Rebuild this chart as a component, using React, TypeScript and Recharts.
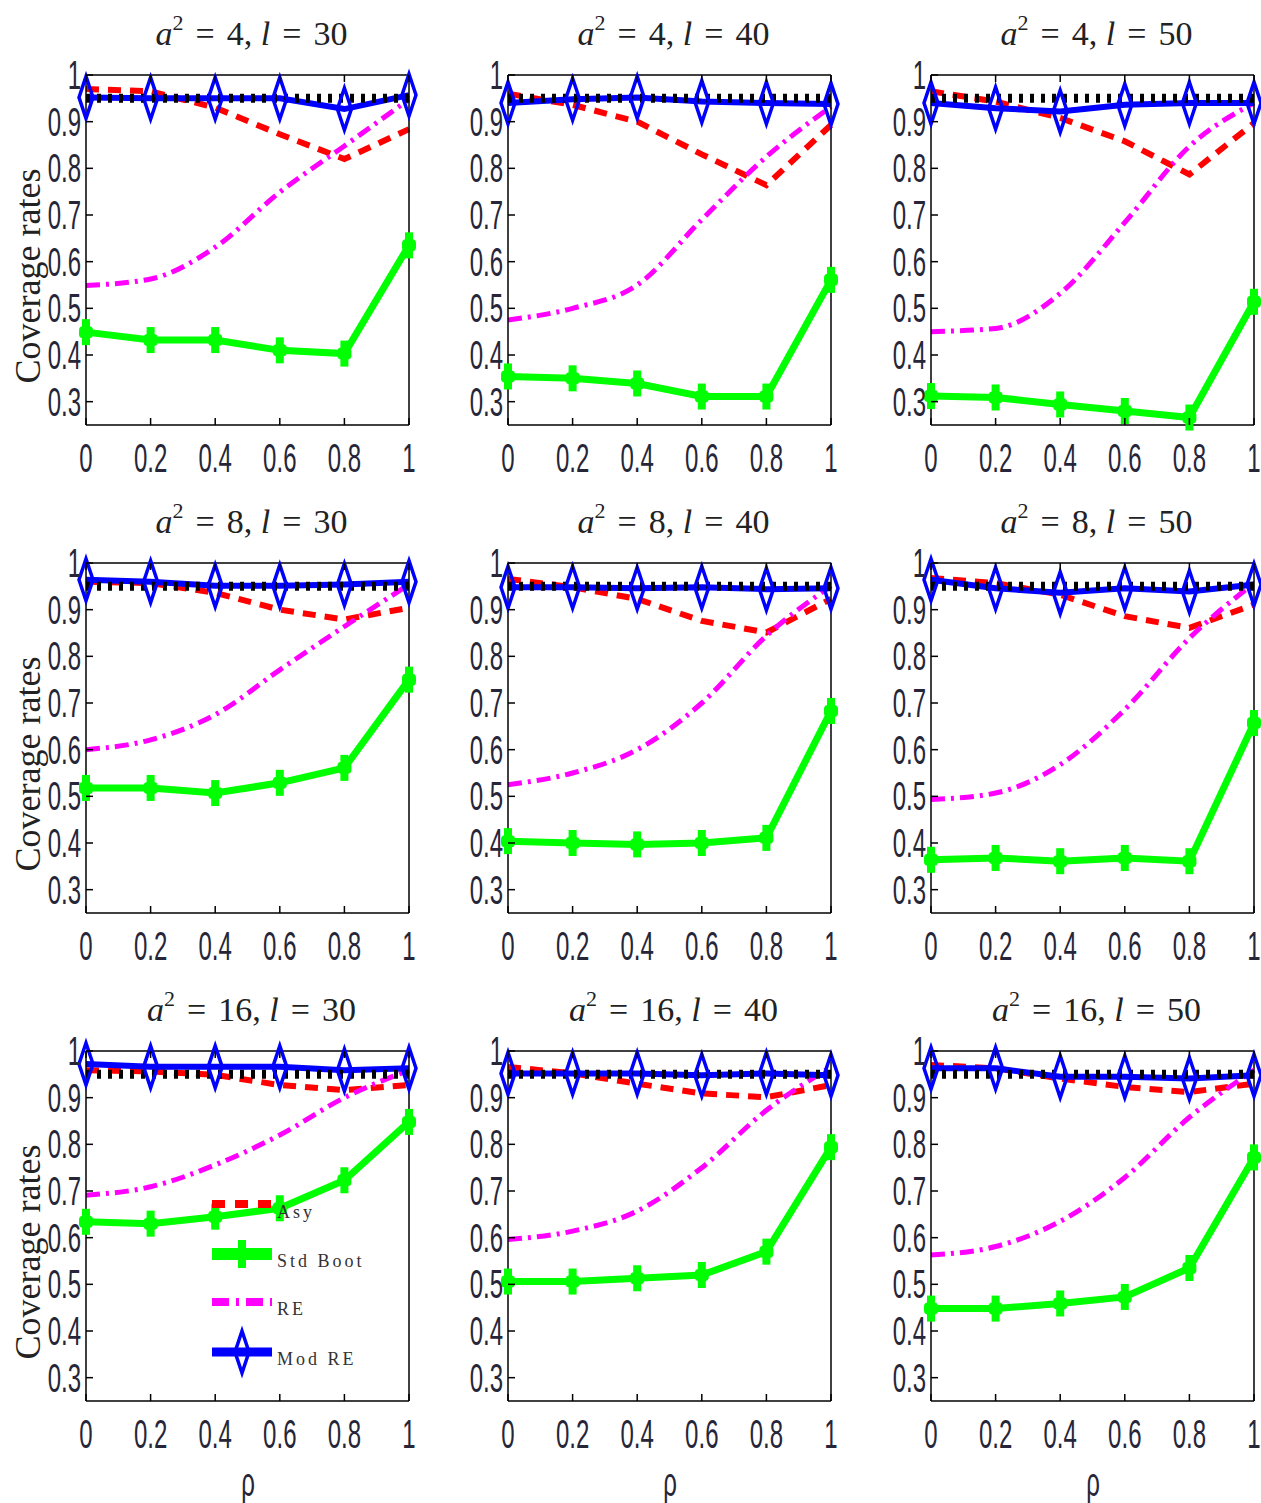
import React from 'react';
import { LineChart, Line, XAxis, YAxis, Legend } from 'recharts';

// rho values on the x axis
const RHO = [0, 0.2, 0.4, 0.6, 0.8, 1];
const Y_TICKS = [0.3, 0.4, 0.5, 0.6, 0.7, 0.8, 0.9, 1];
const NOMINAL = [0.95, 0.95, 0.95, 0.95, 0.95, 0.95];

// a^2 = 4
const ASY_4_30 = [0.97, 0.965, 0.93, 0.873, 0.82, 0.884];
const STD_4_30 = [0.449, 0.432, 0.432, 0.41, 0.403, 0.635];
const RE_4_30 = [0.549, 0.563, 0.631, 0.749, 0.848, 0.948];
const MOD_4_30 = [0.952, 0.95, 0.95, 0.95, 0.927, 0.957];

const ASY_4_40 = [0.96, 0.936, 0.9, 0.83, 0.764, 0.893];
const STD_4_40 = [0.354, 0.35, 0.339, 0.311, 0.311, 0.561];
const RE_4_40 = [0.475, 0.5, 0.55, 0.69, 0.825, 0.932];
const MOD_4_40 = [0.94, 0.948, 0.952, 0.943, 0.94, 0.938];

const ASY_4_50 = [0.965, 0.943, 0.908, 0.858, 0.787, 0.897];
const STD_4_50 = [0.312, 0.309, 0.294, 0.28, 0.266, 0.514];
const RE_4_50 = [0.45, 0.457, 0.532, 0.684, 0.847, 0.94];
const MOD_4_50 = [0.94, 0.929, 0.922, 0.936, 0.94, 0.94];

// a^2 = 8
const ASY_8_30 = [0.96, 0.957, 0.936, 0.9, 0.879, 0.904];
const STD_8_30 = [0.518, 0.518, 0.507, 0.529, 0.561, 0.75];
const RE_8_30 = [0.6, 0.621, 0.675, 0.771, 0.864, 0.954];
const MOD_8_30 = [0.964, 0.96, 0.951, 0.951, 0.954, 0.96];

const ASY_8_40 = [0.966, 0.948, 0.923, 0.876, 0.851, 0.923];
const STD_8_40 = [0.404, 0.4, 0.397, 0.4, 0.411, 0.683];
const RE_8_40 = [0.525, 0.55, 0.6, 0.7, 0.844, 0.951];
const MOD_8_40 = [0.948, 0.948, 0.946, 0.948, 0.944, 0.946];

const ASY_8_50 = [0.968, 0.957, 0.932, 0.886, 0.861, 0.911];
const STD_8_50 = [0.364, 0.368, 0.361, 0.368, 0.361, 0.657];
const RE_8_50 = [0.493, 0.507, 0.568, 0.686, 0.839, 0.957];
const MOD_8_50 = [0.964, 0.946, 0.936, 0.946, 0.939, 0.954];

// a^2 = 16
const ASY_16_30 = [0.959, 0.956, 0.949, 0.927, 0.916, 0.927];
const STD_16_30 = [0.634, 0.63, 0.645, 0.663, 0.723, 0.848];
const RE_16_30 = [0.691, 0.709, 0.756, 0.82, 0.9, 0.959];
const MOD_16_30 = [0.972, 0.966, 0.966, 0.966, 0.959, 0.963];

const ASY_16_40 = [0.966, 0.952, 0.93, 0.909, 0.901, 0.927];
const STD_16_40 = [0.506, 0.506, 0.513, 0.52, 0.57, 0.794];
const RE_16_40 = [0.596, 0.614, 0.657, 0.75, 0.873, 0.966];
const MOD_16_40 = [0.952, 0.952, 0.952, 0.948, 0.952, 0.948];

const ASY_16_50 = [0.97, 0.963, 0.941, 0.923, 0.912, 0.93];
const STD_16_50 = [0.448, 0.448, 0.459, 0.473, 0.535, 0.772];
const RE_16_50 = [0.563, 0.581, 0.635, 0.729, 0.858, 0.959];
const MOD_16_50 = [0.963, 0.963, 0.945, 0.945, 0.941, 0.948];

const PANELS = [
  { a2: 4, l: 30, asy: ASY_4_30, std: STD_4_30, re: RE_4_30, mod: MOD_4_30 },
  { a2: 4, l: 40, asy: ASY_4_40, std: STD_4_40, re: RE_4_40, mod: MOD_4_40 },
  { a2: 4, l: 50, asy: ASY_4_50, std: STD_4_50, re: RE_4_50, mod: MOD_4_50 },
  { a2: 8, l: 30, asy: ASY_8_30, std: STD_8_30, re: RE_8_30, mod: MOD_8_30 },
  { a2: 8, l: 40, asy: ASY_8_40, std: STD_8_40, re: RE_8_40, mod: MOD_8_40 },
  { a2: 8, l: 50, asy: ASY_8_50, std: STD_8_50, re: RE_8_50, mod: MOD_8_50 },
  { a2: 16, l: 30, asy: ASY_16_30, std: STD_16_30, re: RE_16_30, mod: MOD_16_30 },
  { a2: 16, l: 40, asy: ASY_16_40, std: STD_16_40, re: RE_16_40, mod: MOD_16_40 },
  { a2: 16, l: 50, asy: ASY_16_50, std: STD_16_50, re: RE_16_50, mod: MOD_16_50 },
];

// layout of the 3x3 grid (plot area corners in page pixels)
const PLOT_LEFT = [86, 508, 931];
const PLOT_TOP = [75, 563, 1051];
const PLOT_W = 323;
const PLOT_H = 350;
const M_LEFT = 70;
const M_TOP = 30;
const M_RIGHT = 15;
const M_BOTTOM = 70;

const NARROW = "'Liberation Sans Narrow', 'Liberation Sans', Arial, sans-serif";
const SERIF = "'Liberation Serif', 'DejaVu Serif', serif";
const TICK_COLOR = '#262638';

const narrowText = (x: number, y: number, anchor: string, s: string) => (
  <text
    transform={`translate(${x},${y}) scale(0.6,1)`}
    textAnchor={anchor as any}
    fontFamily={NARROW}
    fontSize={40}
    fill={TICK_COLOR}
  >
    {s}
  </text>
);

const BottomTick = (props: any) => {
  const { x, y, payload } = props;
  return (
    <g>
      <line x1={x} y1={y} x2={x} y2={y - 7} stroke="#000" strokeWidth={1.5} />
      {narrowText(x, y + 47, 'middle', String(payload.value))}
    </g>
  );
};

const TopTick = (props: any) => {
  const { x, y } = props;
  return <line x1={x} y1={y} x2={x} y2={y + 7} stroke="#000" strokeWidth={1.5} />;
};

const LeftTick = (props: any) => {
  const { x, y, payload } = props;
  return (
    <g>
      <line x1={x} y1={y} x2={x + 7} y2={y} stroke="#000" strokeWidth={1.5} />
      {narrowText(x - 5, y + 14, 'end', String(payload.value))}
    </g>
  );
};

const RightTick = (props: any) => {
  const { x, y } = props;
  return <line x1={x} y1={y} x2={x - 7} y2={y} stroke="#000" strokeWidth={1.5} />;
};

const CrossDot = (props: any) => {
  const { cx, cy, index } = props;
  return (
    <g key={`c-${index}`}>
      <rect x={cx - 4} y={cy - 13} width={8} height={26} fill="#00ff00" />
      <rect x={cx - 7} y={cy - 6} width={14} height={12} rx={4} fill="#00ff00" />
    </g>
  );
};

const DiamondDot = (props: any) => {
  const { cx, cy, index } = props;
  return (
    <path
      key={`d-${index}`}
      d={`M${cx},${cy - 21} L${cx + 7},${cy} L${cx},${cy + 21} L${cx - 7},${cy} Z`}
      fill="none"
      stroke="#0000ff"
      strokeWidth={3.5}
    />
  );
};

const legendText = (y: number, s: string) => (
  <text x={65} y={y} fontFamily={SERIF} fontSize={18} letterSpacing={3} fill="#333">
    {s}
  </text>
);

const LegendBox = () => (
  <svg width={190} height={190}>
    <line x1={0} y1={14} x2={60} y2={14} stroke="#ff0000" strokeWidth={8} strokeDasharray="13 10" />
    {legendText(28, 'Asy')}
    <line x1={0} y1={64} x2={60} y2={64} stroke="#00ff00" strokeWidth={12} />
    <rect x={26} y={50} width={8} height={28} fill="#00ff00" />
    {legendText(77, 'Std Boot')}
    <line x1={0} y1={112} x2={60} y2={112} stroke="#ff00ff" strokeWidth={8} strokeDasharray="17 7 3 7" />
    {legendText(125, 'RE')}
    <line x1={0} y1={162} x2={60} y2={162} stroke="#0000ff" strokeWidth={9} />
    <path d="M30,141 L37,162 L30,183 L23,162 Z" fill="none" stroke="#0000ff" strokeWidth={3.5} />
    {legendText(175, 'Mod RE')}
  </svg>
);

const Panel = ({ idx }: { idx: number }) => {
  const p = PANELS[idx];
  const row = Math.floor(idx / 3);
  const col = idx % 3;
  const data = RHO.map((x, i) => ({
    x,
    asy: p.asy[i],
    std: p.std[i],
    re: p.re[i],
    mod: p.mod[i],
    nom: NOMINAL[i],
  }));
  const left = PLOT_LEFT[col];
  const top = PLOT_TOP[row];
  const cx = left + PLOT_W / 2;

  return (
    <>
      <div
        style={{
          position: 'absolute',
          left: cx + 4,
          top: top - 58,
          transform: 'translateX(-50%)',
          fontFamily: SERIF,
          fontSize: 34,
          lineHeight: '34px',
          whiteSpace: 'nowrap',
          color: '#222',
        }}
      >
        <i>a</i>
        <span style={{ fontSize: 22, position: 'relative', top: -15 }}>2</span>
        <span style={{ margin: '0 12px' }}>=</span>
        {p.a2},{' '}
        <i>l</i>
        <span style={{ margin: '0 12px' }}>=</span>
        {p.l}
      </div>
      {col === 0 && (
        <div
          style={{
            position: 'absolute',
            left: 28,
            top: top + 201,
            transform: 'translate(-50%, -50%) rotate(-90deg)',
            fontFamily: SERIF,
            fontSize: 36,
            whiteSpace: 'nowrap',
            color: '#222',
          }}
        >
          Coverage rates
        </div>
      )}
      {row === 2 && (
        <div
          style={{
            position: 'absolute',
            left: cx,
            top: 1462,
            transform: 'translateX(-50%) scale(0.6,1)',
            fontFamily: NARROW,
            fontSize: 40,
            lineHeight: '40px',
            color: TICK_COLOR,
          }}
        >
          ρ
        </div>
      )}
      <div style={{ position: 'absolute', left: left - M_LEFT, top: top - M_TOP }}>
        <LineChart
          width={M_LEFT + PLOT_W + M_RIGHT}
          height={M_TOP + PLOT_H + M_BOTTOM}
          data={data}
          margin={{ top: M_TOP - 1, right: M_RIGHT - 1, left: 0, bottom: 0 }}
        >
          <XAxis
            dataKey="x"
            type="number"
            domain={[0, 1]}
            ticks={RHO}
            interval={0}
            height={M_BOTTOM}
            tickSize={0}
            tickMargin={0}
            tickLine={false}
            tick={BottomTick}
            axisLine={{ stroke: '#000', strokeWidth: 1.5 }}
          />
          <XAxis
            xAxisId="top"
            orientation="top"
            dataKey="x"
            type="number"
            domain={[0, 1]}
            ticks={RHO}
            interval={0}
            height={1}
            tickSize={0}
            tickMargin={0}
            tickLine={false}
            tick={TopTick}
            axisLine={{ stroke: '#000', strokeWidth: 1.5 }}
          />
          <YAxis
            type="number"
            domain={[0.25, 1]}
            ticks={Y_TICKS}
            interval={0}
            width={M_LEFT}
            tickSize={0}
            tickMargin={0}
            tickLine={false}
            tick={LeftTick}
            axisLine={{ stroke: '#000', strokeWidth: 1.5 }}
          />
          <YAxis
            yAxisId="right"
            orientation="right"
            type="number"
            domain={[0.25, 1]}
            ticks={Y_TICKS}
            interval={0}
            width={1}
            tickSize={0}
            tickMargin={0}
            tickLine={false}
            tick={RightTick}
            axisLine={{ stroke: '#000', strokeWidth: 1.5 }}
          />
          <Line
            dataKey="asy"
            name="Asy"
            type="linear"
            stroke="#ff0000"
            strokeWidth={6}
            strokeDasharray="13 9"
            dot={false}
            isAnimationActive={false}
          />
          <Line
            dataKey="std"
            name="Std Boot"
            type="linear"
            stroke="#00ff00"
            strokeWidth={7}
            dot={CrossDot}
            isAnimationActive={false}
          />
          <Line
            dataKey="re"
            name="RE"
            type="monotone"
            stroke="#ff00ff"
            strokeWidth={5}
            strokeDasharray="14 6 3 6"
            dot={false}
            isAnimationActive={false}
          />
          <Line
            dataKey="mod"
            name="Mod RE"
            type="linear"
            stroke="#0000ff"
            strokeWidth={6}
            dot={DiamondDot}
            isAnimationActive={false}
          />
          <Line
            dataKey="nom"
            name="nominal"
            type="linear"
            stroke="#000"
            strokeWidth={9}
            strokeDasharray="4 7"
            dot={false}
            legendType="none"
            isAnimationActive={false}
          />
          {idx === 6 && (
            <Legend
              layout="vertical"
              align="center"
              verticalAlign="middle"
              content={LegendBox}
              wrapperStyle={{ left: 196, top: 1190 - top + M_TOP, width: 190, height: 190 }}
            />
          )}
        </LineChart>
      </div>
    </>
  );
}

export default function App() {
  return (
    <div
      style={{
        position: 'absolute',
        left: 0,
        top: 0,
        width: 1261,
        height: 1503,
        overflow: 'hidden',
        background: '#fff',
      }}
    >
      {PANELS.map((_, i) => (
        <Panel key={i} idx={i} />
      ))}
    </div>
  );
}
